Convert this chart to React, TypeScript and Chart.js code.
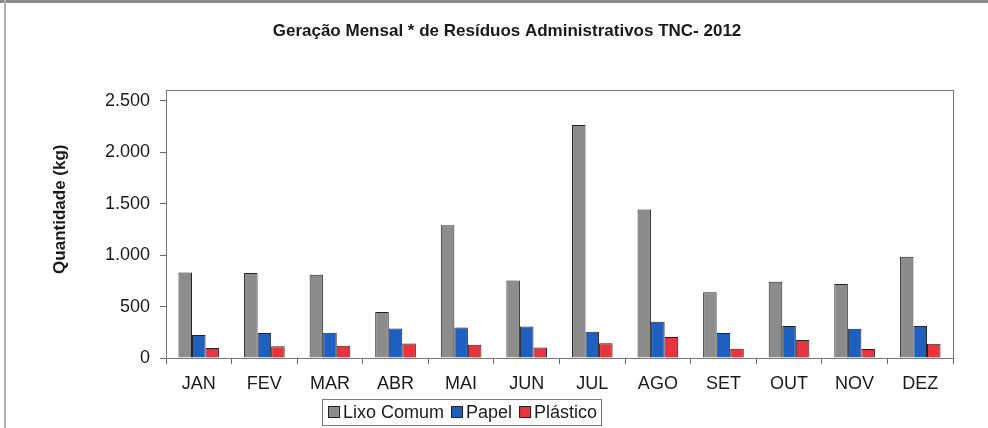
import React, { useEffect, useRef } from "react";
import { Chart, registerables } from "chart.js";

Chart.register(...registerables);

const TITLE = "Geração Mensal * de Resíduos Administrativos TNC- 2012";
const Y_TITLE = "Quantidade (kg)";
const MONTHS = ["JAN", "FEV", "MAR", "ABR", "MAI", "JUN", "JUL", "AGO", "SET", "OUT", "NOV", "DEZ"];
const LIXO_COMUM = [831, 825, 808, 446, 1291, 753, 2265, 1443, 638, 741, 718, 983];
const PAPEL = [223, 243, 245, 287, 297, 307, 255, 352, 243, 311, 284, 311];
const PLASTICO = [97, 113, 119, 142, 129, 103, 143, 204, 90, 175, 87, 139];
const SERIES_NAMES = ["Lixo Comum", "Papel", "Plástico"];
const Y_TICKS = [0, 500, 1000, 1500, 2000, 2500];
const Y_MAX = 2600;

const FONT = "Arial, 'Liberation Sans', sans-serif";
const fmt = (v: number) => String(v).replace(/\B(?=(\d{3})+(?!\d))/g, ".");

const customDraw = {
  id: "customDraw",
  afterLayout(chart: any) {
    if (chart.titleBlock) {
      chart.titleBlock.left += 9;
      chart.titleBlock.right += 9;
    }
  },
  afterDraw(chart: any) {
    const ctx = chart.ctx;
    const a = chart.chartArea;
    ctx.save();
    // plot area border
    ctx.strokeStyle = "#777777";
    ctx.lineWidth = 1;
    ctx.strokeRect(Math.round(a.left) + 0.5, Math.round(a.top) + 0.5, Math.round(a.right - a.left), Math.round(a.bottom - a.top));

    // y axis title
    ctx.save();
    ctx.translate(60, (a.top + a.bottom) / 2 - 15);
    ctx.rotate(-Math.PI / 2);
    ctx.fillStyle = "#1a1a1a";
    ctx.font = "bold 17px " + FONT;
    ctx.textAlign = "center";
    ctx.textBaseline = "middle";
    ctx.fillText(Y_TITLE, 0, 0);
    ctx.restore();

    // legend
    const ds = chart.data.datasets;
    ctx.font = "18px " + FONT;
    const box = 12, gap = 3, itemGap = 7, padL = 6, padR = 4;
    const widths = ds.map((d: any) => ctx.measureText(d.label).width);
    const total = widths.reduce((s: number, w: number) => s + box + gap + w, 0) + itemGap * (ds.length - 1);
    const cx = a.left + (a.right - a.left) * 0.375;
    const cy = a.bottom + 54;
    const left = Math.round(cx - (total + padL + padR) / 2);
    const w = Math.round(total + padL + padR);
    ctx.strokeStyle = "#7a7a7a";
    ctx.strokeRect(left + 0.5, Math.round(cy - 13) + 0.5, w, 26);
    let x = left + padL;
    ds.forEach((d: any, i: number) => {
      ctx.fillStyle = d.backgroundColor;
      ctx.fillRect(x, Math.round(cy - 6), box, box);
      ctx.strokeStyle = "#222222";
      ctx.strokeRect(x + 0.5, Math.round(cy - 6) + 0.5, box - 1, box - 1);
      x += box + gap;
      ctx.fillStyle = "#1a1a1a";
      ctx.textAlign = "left";
      ctx.textBaseline = "middle";
      ctx.fillText(d.label, x, cy + 1);
      x += widths[i] + itemGap;
    });
    ctx.restore();
  },
};

export default function App() {
  const ref = useRef<HTMLCanvasElement | null>(null);

  useEffect(() => {
    if (!ref.current) return;
    const chart = new Chart(ref.current, {
      type: "bar",
      data: {
        labels: MONTHS,
        datasets: [
          { label: SERIES_NAMES[0], data: LIXO_COMUM, backgroundColor: "#8c8c8c", borderColor: "#222222", borderWidth: 1 },
          { label: SERIES_NAMES[1], data: PAPEL, backgroundColor: "#1f5fc0", borderColor: "#222222", borderWidth: 1 },
          { label: SERIES_NAMES[2], data: PLASTICO, backgroundColor: "#e8343e", borderColor: "#222222", borderWidth: 1 },
        ],
      },
      options: {
        responsive: false,
        animation: false,
        maintainAspectRatio: false,
        layout: { padding: { left: 43, right: 35, top: 0, bottom: 30 } },
        datasets: { bar: { categoryPercentage: 0.62, barPercentage: 1 } },
        plugins: {
          title: {
            display: true,
            text: TITLE,
            color: "#1a1a1a",
            font: { family: FONT, size: 17, weight: "bold" },
            padding: { top: 21, bottom: 49 },
          },
          legend: { display: false },
          tooltip: { enabled: false },
        },
        scales: {
          x: {
            grid: { display: true, drawOnChartArea: false, offset: true, tickLength: 6, color: "#666666" },
            border: { display: true, color: "#777777" },
            ticks: { color: "#1a1a1a", font: { family: FONT, size: 18 }, padding: 9, maxRotation: 0, autoSkip: false },
            afterFit: (s: any) => { s.height = 40; },
          },
          y: {
            min: 0,
            max: Y_MAX,
            grid: { display: true, drawOnChartArea: false, tickLength: 6, color: "#666666" },
            border: { display: true, color: "#777777" },
            ticks: {
              color: "#1a1a1a",
              font: { family: FONT, size: 18 },
              padding: 10,
              autoSkip: false,
              callback: (v: any) => fmt(Number(v)),
            },
            afterBuildTicks: (s: any) => { s.ticks = Y_TICKS.map((v) => ({ value: v })); },
            afterFit: (s: any) => { s.width = 123; },
          },
        },
      },
      plugins: [customDraw],
    } as any);
    return () => chart.destroy();
  }, []);

  return (
    <div style={{ position: "fixed", left: 0, top: 0, width: 988, height: 428, background: "#ffffff" }}>
      <canvas ref={ref} width={988} height={428} style={{ display: "block" }} />
      <div style={{ position: "absolute", left: 0, top: 0, width: 988, height: 3, background: "#8a8a8a" }} />
      <div style={{ position: "absolute", left: 4, top: 0, width: 2, height: 428, background: "#b0b0b0" }} />
    </div>
  );
}
